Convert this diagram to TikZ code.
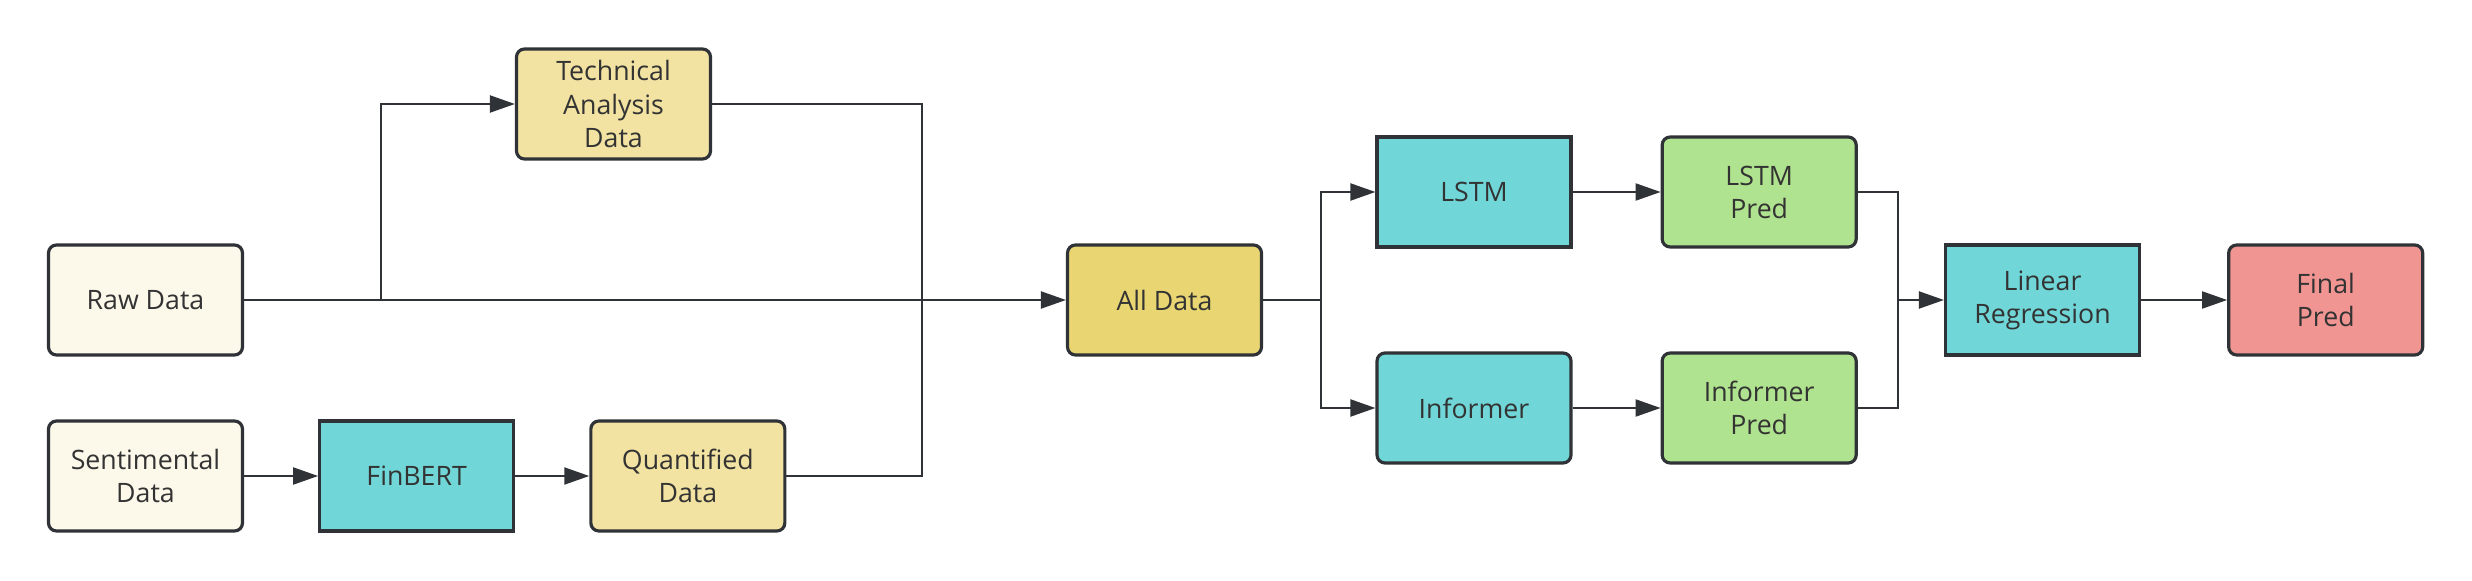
\documentclass[tikz,border=0pt]{standalone}
\usepackage{fontspec}
\setmainfont{Open Sans}
\usetikzlibrary{arrows.meta}
\usetikzlibrary{positioning}

\definecolor{linegray}{HTML}{2F3236}
\definecolor{textgray}{HTML}{333333}
\definecolor{rawfill}{HTML}{FCF8EA}
\definecolor{derivedfill}{HTML}{F2E3A2}
\definecolor{allfill}{HTML}{E9D672}
\definecolor{modelfill}{HTML}{70D6D7}
\definecolor{predfill}{HTML}{B0E38F}
\definecolor{finalfill}{HTML}{F09592}

\begin{document}
\begin{tikzpicture}[
boxbase/.style={rectangle, draw=linegray, line width=0.9pt, minimum width=1.94cm, minimum height=1.1cm, inner sep=1pt, align=center, text=textgray, font=\fontsize{7.6}{9.4}\selectfont},
roundbox/.style={boxbase, rounded corners=0.08cm},
squarebox/.style={boxbase, sharp corners},
plain/.style={draw=linegray, line width=0.6pt},
flow/.style={plain, -{Triangle[length=0.25cm, width=0.17cm]}},
]
\useasboundingbox (0,0) rectangle (24.72,5.80);
%Nodes
\node[roundbox, fill=rawfill]      (raw_data)  at (1.455,2.80) {Raw Data};
\node[roundbox, fill=rawfill]      (sentimental_data)  at (1.455,1.04) {Sentimental\\Data};
\node[squarebox, fill=modelfill]   (finbert)  [right=0.74cm of sentimental_data] {FinBERT};
\node[roundbox, fill=derivedfill]  (quantified_data)  [right=0.74cm of finbert] {Quantified\\Data};
\node[roundbox, fill=derivedfill]  (technical_data)  at (6.135,4.76) {Technical\\Analysis\\Data};
\node[roundbox, fill=allfill]      (all_data)  at (11.645,2.80) {All Data};
\node[squarebox, fill=modelfill]   (lstm)  at (14.74,3.88) {LSTM};
\node[roundbox, fill=modelfill]    (informer)  at (14.74,1.72) {Informer};
\node[roundbox, fill=predfill]     (lstm_pred)  [right=0.88cm of lstm] {LSTM\\Pred};
\node[roundbox, fill=predfill]     (informer_pred)  [right=0.88cm of informer] {Informer\\Pred};
\node[squarebox, fill=modelfill]   (lin_reg)  at (20.425,2.80) {Linear\\Regression};
\node[roundbox, fill=finalfill]    (final_pred)  [right=0.86cm of lin_reg] {Final\\Pred};

%Junctions
\coordinate[right=1.37cm of raw_data.east] (raw_split);
\coordinate[left=1.44cm of all_data.west] (data_merge);
\coordinate[right=0.58cm of all_data.east] (model_split);
\coordinate[left=0.46cm of lin_reg.west] (pred_merge);

%Lines
\draw[flow] (raw_data.east) -- (all_data.west);
\draw[flow] (raw_split) |- (technical_data.west);
\draw[flow] (sentimental_data.east) -- (finbert.west);
\draw[flow] (finbert.east) -- (quantified_data.west);
\draw[plain] (technical_data.east) -| (data_merge);
\draw[plain] (quantified_data.east) -| (data_merge);
\draw[plain] (all_data.east) -- (model_split);
\draw[flow] (model_split) |- (lstm.west);
\draw[flow] (model_split) |- (informer.west);
\draw[flow] (lstm.east) -- (lstm_pred.west);
\draw[flow] (informer.east) -- (informer_pred.west);
\draw[plain] (lstm_pred.east) -| (pred_merge);
\draw[plain] (informer_pred.east) -| (pred_merge);
\draw[flow] (pred_merge) -- (lin_reg.west);
\draw[flow] (lin_reg.east) -- (final_pred.west);

\end{tikzpicture}
\end{document}
